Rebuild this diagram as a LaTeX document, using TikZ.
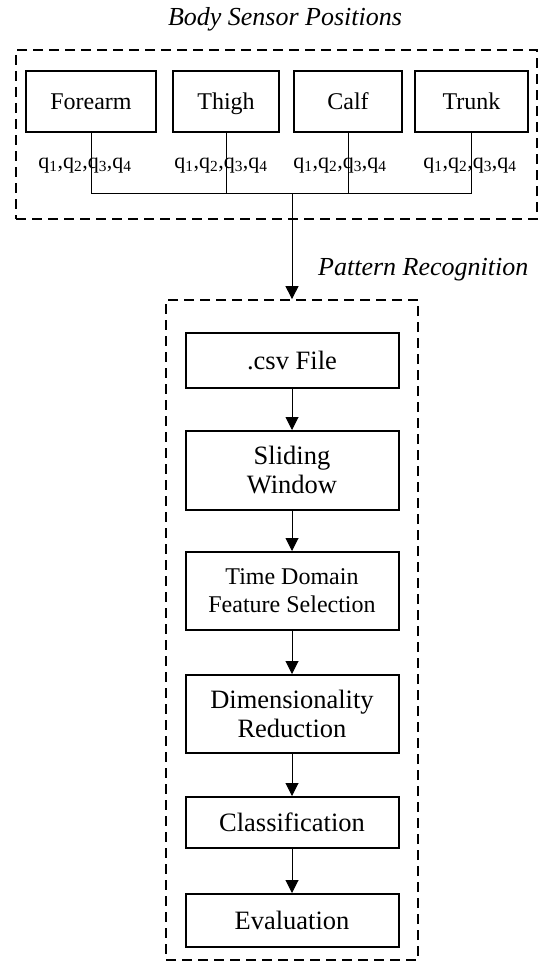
\documentclass[tikz,border=0pt]{standalone}
\usepackage{fontspec}
\setmainfont{Liberation Serif}
\usetikzlibrary{arrows.meta}

\begin{document}
\begin{tikzpicture}[x=1pt, y=-1pt,
    sensor/.style={draw, line width=2pt, inner sep=0pt, minimum height=61pt, text height=21pt, text depth=5pt, font=\fontsize{24}{28}\selectfont},
    stage/.style={draw, line width=2pt, inner sep=0pt, minimum width=213pt, align=center, font=\fontsize{26.5}{29}\selectfont},
    group/.style={draw, line width=1.8pt, dash pattern=on 10pt off 6pt, inner sep=0pt},
    quat/.style={anchor=base, inner sep=0pt, font=\fontsize{22}{24}\selectfont},
    title/.style={inner sep=0pt, font=\fontsize{26}{28}\selectfont\itshape},
    link/.style={line width=1pt},
    flow/.style={line width=1pt, -{Triangle[width=13pt, length=13pt]}}]
    \useasboundingbox (0,0) rectangle (541,963);
    \node[title, anchor=base] (bodytitle) at (285,26) {Body Sensor Positions};
    \node[group, minimum width=521pt, minimum height=169pt] (sensors) at (276.5,134.5) {};
    \node[sensor, minimum width=130pt] (forearm) at (91,101.5) {Forearm};
    \node[sensor, minimum width=106pt] (thigh) at (226,101.5) {Thigh};
    \node[sensor, minimum width=108pt] (calf) at (348,101.5) {Calf};
    \node[sensor, minimum width=113pt] (trunk) at (471.5,101.5) {Trunk};
    \node[quat] (qforearm) at (85,168) {q\textsubscript{1},q\textsubscript{2},q\textsubscript{3},q\textsubscript{4}};
    \node[quat] (qthigh) at (221,168) {q\textsubscript{1},q\textsubscript{2},q\textsubscript{3},q\textsubscript{4}};
    \node[quat] (qcalf) at (340,168) {q\textsubscript{1},q\textsubscript{2},q\textsubscript{3},q\textsubscript{4}};
    \node[quat] (qtrunk) at (470,168) {q\textsubscript{1},q\textsubscript{2},q\textsubscript{3},q\textsubscript{4}};
    \coordinate (bus) at (292,193);
    \draw[link] (forearm.south) -- (forearm.south |- bus) -- (trunk.south |- bus) -- (trunk.south);
    \draw[link] (thigh.south) -- (thigh.south |- bus);
    \draw[link] (calf.south) -- (calf.south |- bus);

    \node[title, anchor=base west] (patterntitle) at (318,275) {Pattern Recognition};
    \node[group, minimum width=252pt, minimum height=660pt] (pattern) at (292,630) {};
    \draw[flow] (bus) -- (pattern.north);
    \node[stage, minimum height=55pt] (csv) at (292,360.5) {.csv File};
    \node[stage, minimum height=79pt] (window) at (292,470.5) {Sliding\\Window};
    \node[stage, minimum height=78pt, font=\fontsize{24}{28}\selectfont] (features) at (292,591) {Time Domain\\Feature Selection};
    \node[stage, minimum height=78pt] (reduction) at (292,714) {Dimensionality\\Reduction};
    \node[stage, minimum height=51pt] (classify) at (292,822.5) {Classification};
    \node[stage, minimum height=53pt] (evaluate) at (292,920.5) {Evaluation};
    \draw[flow] (csv) -- (window);
    \draw[flow] (window) -- (features);
    \draw[flow] (features) -- (reduction);
    \draw[flow] (reduction) -- (classify);
    \draw[flow] (classify) -- (evaluate);
\end{tikzpicture}
\end{document}
